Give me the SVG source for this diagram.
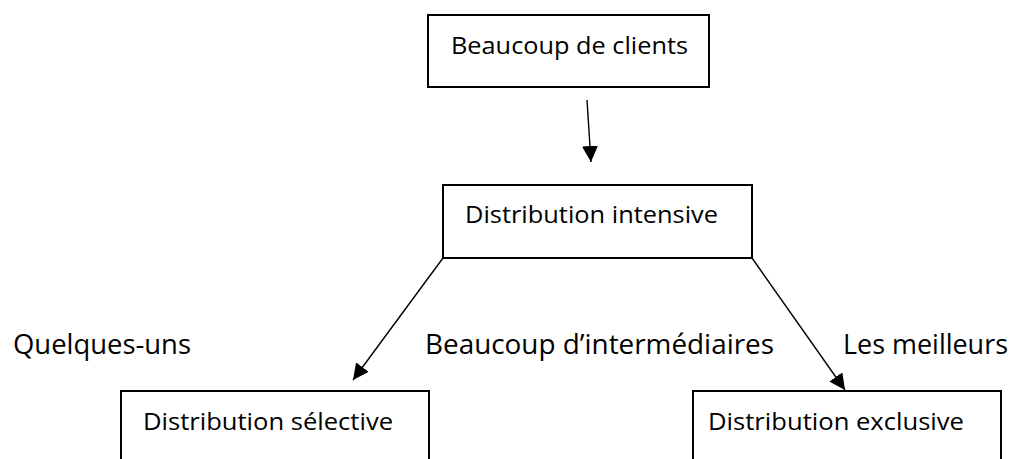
<svg xmlns="http://www.w3.org/2000/svg" width="1010" height="459" viewBox="0 0 1010 459">
  <defs>
    <style>
      .box { fill: #ffffff; stroke: #000000; stroke-width: 2; }
      .conn { stroke: #000000; stroke-width: 1.4; fill: none; marker-end: url(#head); }
      .t { font-family: "Open Sans", "Liberation Sans", sans-serif; fill: #000000; }
      .bt { font-size: 23px; }
      .lt { font-size: 26.5px; }
    </style>
    <marker id="head" markerUnits="userSpaceOnUse" markerWidth="16" markerHeight="16" viewBox="0 0 16 16" refX="16" refY="8" orient="auto">
      <path d="M0,0 L16,8 L0,16 Z" fill="#000000"/>
    </marker>
  </defs>
  <rect width="1010" height="459" fill="#ffffff"/>

  <g id="connectors">
    <line class="conn" x1="587" y1="100" x2="591" y2="162"/>
    <line class="conn" x1="443" y1="258" x2="353" y2="380"/>
    <line class="conn" x1="752" y1="258" x2="845" y2="390"/>
  </g>

  <g id="node-clients">
    <rect class="box" x="428" y="15" width="281" height="72"/>
    <text class="t bt" x="451" y="54" textLength="237" lengthAdjust="spacingAndGlyphs">Beaucoup de clients</text>
  </g>

  <g id="node-intensive">
    <rect class="box" x="443" y="185" width="309" height="73"/>
    <text class="t bt" x="465" y="223" textLength="253" lengthAdjust="spacingAndGlyphs">Distribution intensive</text>
  </g>

  <g id="node-selective">
    <rect class="box" x="121" y="391" width="308" height="100"/>
    <text class="t bt" x="143" y="430" textLength="250" lengthAdjust="spacingAndGlyphs">Distribution sélective</text>
  </g>

  <g id="node-exclusive">
    <rect class="box" x="693" y="391" width="308" height="100"/>
    <text class="t bt" x="708" y="430" textLength="256" lengthAdjust="spacingAndGlyphs">Distribution exclusive</text>
  </g>

  <g id="labels">
    <text class="t lt" x="13" y="354" textLength="178" lengthAdjust="spacingAndGlyphs">Quelques-uns</text>
    <text class="t lt" x="425" y="354" textLength="349" lengthAdjust="spacingAndGlyphs">Beaucoup d’intermédiaires</text>
    <text class="t lt" x="843" y="354" textLength="165" lengthAdjust="spacingAndGlyphs">Les meilleurs</text>
  </g>
</svg>
